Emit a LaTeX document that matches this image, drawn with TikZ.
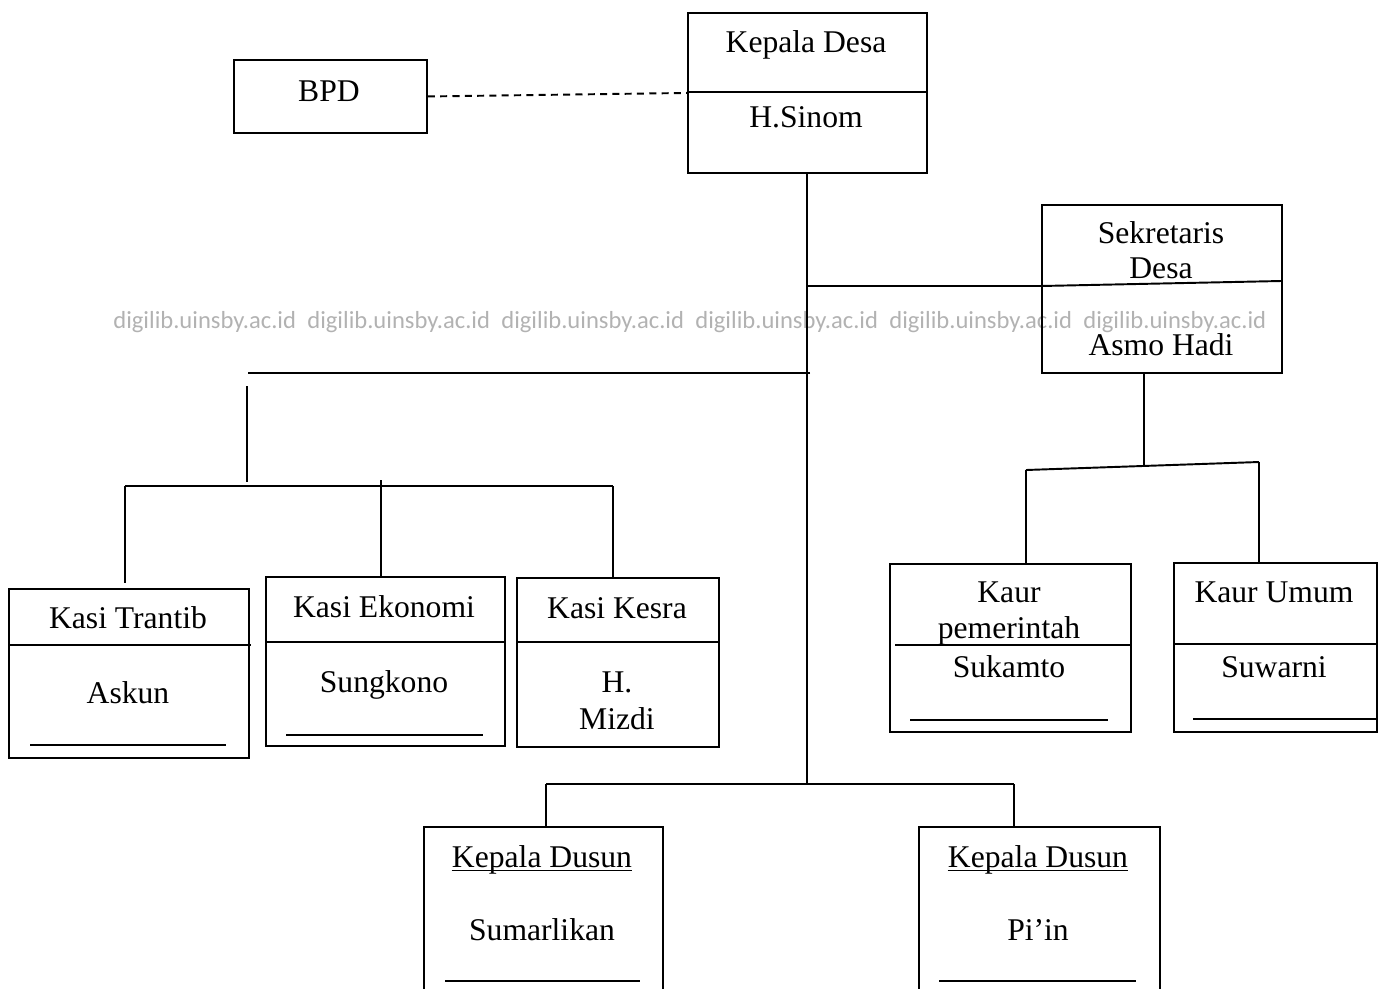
\documentclass[tikz,border=0pt]{standalone}
\usepackage{fontspec}
\setmainfont{Liberation Serif}
\newfontfamily\wmfont{Carlito}
\usetikzlibrary{positioning}

\tikzset{
  box/.style={draw, line width=1.1pt, anchor=north west, inner sep=0pt},
  lbl/.style={font=\fontsize{18}{21}\selectfont, inner sep=0pt, anchor=base},
  link/.style={line width=1.1pt},
  sign/.style={line width=1pt},
  wmark/.style={font=\wmfont\fontsize{14}{16}\selectfont, text=black!30, inner sep=0pt}
}

\begin{document}
\begin{tikzpicture}[x=0.02cm, y=-0.02cm]
\useasboundingbox (0,0) rectangle (1383,988);
\clip (0,0) rectangle (1383,988);

% watermark
\foreach \i in {0,...,5}
  \node[wmark, anchor=west] (wm\i) at (113+194*\i,322) {digilib.uinsby.ac.id};

% boxes
\node[box, minimum width=4.78cm, minimum height=3.2cm] (kades) at (687,12) {};
\node[box, minimum width=3.86cm, minimum height=1.46cm] (bpd) at (233,59) {};
\node[box, minimum width=4.8cm, minimum height=3.36cm] (sekdes) at (1041,204) {};
\node[box, minimum width=4.8cm, minimum height=3.38cm] (trantib) at (8,588) {};
\node[box, minimum width=4.78cm, minimum height=3.38cm] (ekonomi) at (265,576) {};
\node[box, minimum width=4.04cm, minimum height=3.38cm] (kesra) at (516,577) {};
\node[box, minimum width=4.82cm, minimum height=3.36cm] (kaurpem) at (889,563) {};
\node[box, minimum width=4.06cm, minimum height=3.38cm] (kaurumum) at (1173,562) {};
\node[box, minimum width=4.78cm, minimum height=3.6cm] (dusuna) at (423,826) {};
\node[box, minimum width=4.82cm, minimum height=3.6cm] (dusunb) at (918,826) {};

% dividers
\draw[link] (687,92) -- (926,92);
\draw[link] (1041,286) -- (1281,281);
\draw[link] (8,645) -- (251,645);
\draw[link] (265,642) -- (504,642);
\draw[link] (516,642) -- (718,642);
\draw[link] (895,645) -- (1130,645);
\draw[link] (1173,644) -- (1376,644);

% texts
\node[lbl] (kadesA) at (806,52) {Kepala Desa};
\node[lbl] (kadesB) at (806,127) {H.Sinom};
\node[lbl] (bpdA) at (329,101) {BPD};
\node[lbl] (sekdesA) at (1161,243) {Sekretaris};
\node[lbl] (sekdesB) at (1161,278) {Desa};
\node[lbl] (sekdesC) at (1161,355) {Asmo Hadi};
\node[lbl] (trantibA) at (128,628) {Kasi Trantib};
\node[lbl] (trantibB) at (128,703) {Askun};
\node[lbl] (ekonomiA) at (384,617) {Kasi Ekonomi};
\node[lbl] (ekonomiB) at (384,692) {Sungkono};
\node[lbl] (kesraA) at (617,618) {Kasi Kesra};
\node[lbl] (kesraB) at (617,692) {H.};
\node[lbl] (kesraC) at (617,729) {Mizdi};
\node[lbl] (kaurpemA) at (1009,602) {Kaur};
\node[lbl] (kaurpemB) at (1009,638) {pemerintah};
\node[lbl] (kaurpemC) at (1009,677) {Sukamto};
\node[lbl] (kaurumumA) at (1274,602) {Kaur Umum};
\node[lbl] (kaurumumB) at (1274,677) {Suwarni};
\node[lbl] (dusunaA) at (542,867) {Kepala Dusun};
\node[lbl] (dusunaB) at (542,940) {Sumarlikan};
\node[lbl] (dusunbA) at (1038,867) {Kepala Dusun};
\node[lbl] (dusunbB) at (1038,940) {Pi’in};
\draw[sign] ([yshift=-2pt]dusunaA.base west) -- ([yshift=-2pt]dusunaA.base east);
\draw[sign] ([yshift=-2pt]dusunbA.base west) -- ([yshift=-2pt]dusunbA.base east);

% blank lines for signatures
\draw[sign] (30,745) -- (226,745);
\draw[sign] (286,735) -- (483,735);
\draw[sign] (910,720) -- (1108,720);
\draw[sign] (1193,719) -- (1376,719);
\draw[sign] (445,981) -- (640,981);
\draw[sign] (939,981) -- (1136,981);

% connectors
\coordinate (trunk) at (807,784);
\coordinate (jsek) at (807,286);
\coordinate (jkasi) at (810,373);
\coordinate (kasiL) at (248,373);
\coordinate (kasiT) at (247,386);
\coordinate (kasiD) at (247,482);
\coordinate (kasibarL) at (125,486);
\coordinate (kasibarR) at (613,486);
\coordinate (ekonomiT) at (381,480);
\coordinate (sekfoot) at (1144,372);
\coordinate (sekbar) at (1144,466);
\coordinate (kaurL) at (1026,470);
\coordinate (kaurR) at (1259,462);
\coordinate (dusunL) at (546,784);
\coordinate (dusunR) at (1014,784);

\draw[link, dashed, dash pattern=on 4pt off 3pt] (bpd.east) -- (kades.west);
\draw[link] (kades.south) -- (kades.south |- trunk);
\draw[link] (jsek) -- (jsek -| sekdes.west);
\draw[link] (jkasi) -- (kasiL);
\draw[link] (kasiT) -- (kasiD);
\draw[link] (kasibarL) -- (kasibarR);
\draw[link] (kasibarL) -- (kasibarL |- 0,583);
\draw[link] (ekonomiT) -- (ekonomiT |- ekonomi.north);
\draw[link] (kasibarR) -- (kasibarR |- kesra.north);
\draw[link] (sekfoot) -- (sekbar);
\draw[link] (kaurL) -- (kaurR);
\draw[link] (kaurL) -- (kaurL |- kaurpem.north);
\draw[link] (kaurR) -- (kaurR |- kaurumum.north);
\draw[link] (dusunL) -- (dusunR);
\draw[link] (dusunL) -- (dusunL |- dusuna.north);
\draw[link] (dusunR) -- (dusunR |- dusunb.north);
\end{tikzpicture}
\end{document}
